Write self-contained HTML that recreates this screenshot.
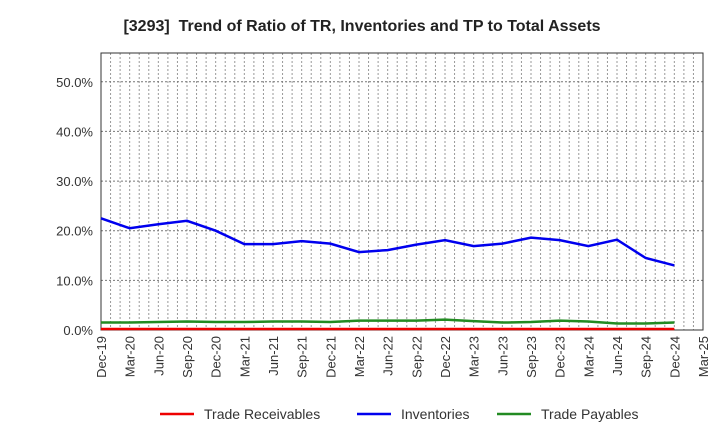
<!DOCTYPE html>
<html><head><meta charset="utf-8"><style>
body{margin:0;background:#fff;font-family:"Liberation Sans",sans-serif}
</style></head><body>
<svg id="chart" width="720" height="440" xmlns="http://www.w3.org/2000/svg" font-family="Liberation Sans, sans-serif"></svg>
<script>
const categories=["Dec-19","Mar-20","Jun-20","Sep-20","Dec-20","Mar-21","Jun-21","Sep-21","Dec-21","Mar-22","Jun-22","Sep-22","Dec-22","Mar-23","Jun-23","Sep-23","Dec-23","Mar-24","Jun-24","Sep-24","Dec-24","Mar-25"];
const inventories=[22.5,20.5,21.3,22.0,20.0,17.3,17.3,17.9,17.4,15.7,16.1,17.2,18.1,16.9,17.4,18.6,18.1,16.9,18.2,14.5,13.0];
const payables=[1.5,1.5,1.6,1.7,1.6,1.6,1.7,1.7,1.6,1.9,1.9,1.9,2.1,1.8,1.5,1.6,1.9,1.7,1.3,1.3,1.5];
const receivables=[0.2,0.2,0.2,0.2,0.2,0.2,0.2,0.2,0.2,0.2,0.2,0.2,0.2,0.2,0.2,0.2,0.2,0.2,0.2,0.2,0.2];
const yTicks=[0,10,20,30,40,50];
const yLabels=["0.0%","10.0%","20.0%","30.0%","40.0%","50.0%"];
const L=101,R=703,T=53,B=330,yMax=55.8;
const svg=document.getElementById('chart');const NS="http://www.w3.org/2000/svg";
const xs=i=>L+i*(R-L)/21;const ys=v=>B-v*(B-T)/yMax;
function mk(t,a,txt){const e=document.createElementNS(NS,t);for(const k in a)e.setAttribute(k,a[k]);if(txt!=null)e.textContent=txt;svg.appendChild(e);return e;}
let t=mk('text',{x:362,y:31,'text-anchor':'middle','font-size':16,'font-weight':'bold',fill:'#222','xml:space':'preserve'},"[3293]\u00a0\u00a0Trend of Ratio of TR, Inventories and TP to Total Assets");


for(let m=1;m<63;m++){const x=L+m*(R-L)/63;const g=mk('line',{x1:x,x2:x,y1:T,y2:B,stroke:'#999','stroke-width':1,'stroke-dasharray':'2,2'});

}
yTicks.forEach((v,i)=>{const y=ys(v);if(v>0){const g=mk('line',{x1:L,x2:R,y1:y,y2:y,stroke:'#777','stroke-width':1,'stroke-dasharray':'2,2'});

}
const l=mk('text',{x:L-8,y:y+5,'text-anchor':'end','font-size':13,fill:'#333'},yLabels[i]);

});
categories.forEach((c,i)=>{const x=xs(i);const l=mk('text',{transform:`translate(${x+5},${B+6}) rotate(-90)`,'text-anchor':'end','font-size':13,fill:'#333'},c);

});
const fr=mk('rect',{x:L,y:T,width:R-L,height:B-T,fill:'none',stroke:'#333','stroke-width':1});


function series(arr,col,name){const p=mk('polyline',{points:arr.map((v,i)=>xs(i)+','+ys(v)).join(' '),fill:'none',stroke:col,'stroke-width':2.5});

}
series(payables,'#228b22','trade-payables-line');
series(receivables,'#e00','trade-receivables-line');
series(inventories,'#0000ee','inventories-line');
[["Trade Receivables",'#e00',160],["Inventories",'#0000ee',357],["Trade Payables",'#228b22',497]].forEach(([n,c,x])=>{
const g=mk('line',{x1:x,x2:x+34,y1:414,y2:414,stroke:c,'stroke-width':2.5});


const l=mk('text',{x:x+44,y:419,'font-size':14,fill:'#333'},n);

});
</script>
</body></html>
